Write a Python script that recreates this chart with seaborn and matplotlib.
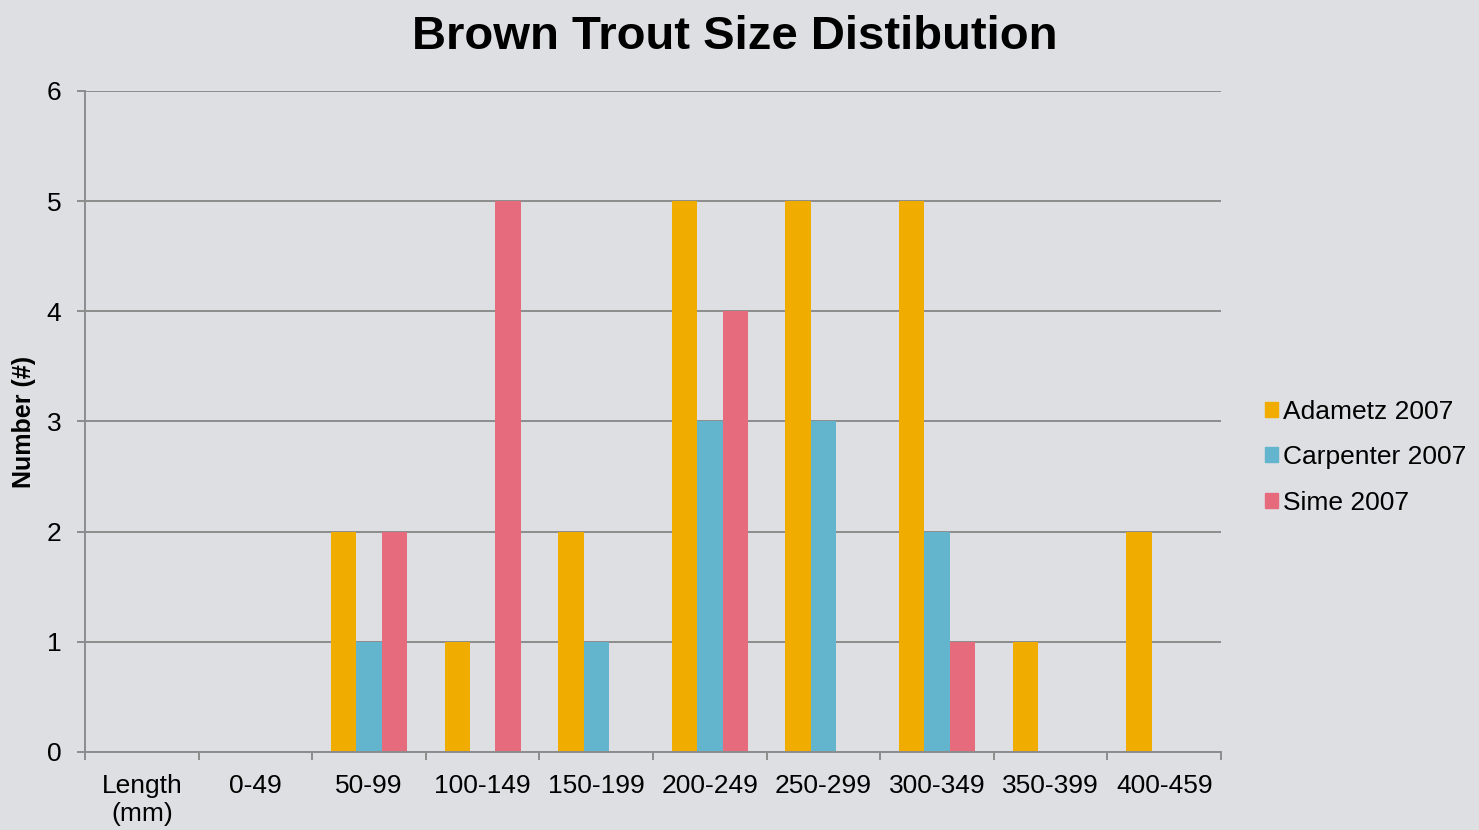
import pandas as pd
import matplotlib
matplotlib.use("Agg")
from matplotlib import pyplot as plt
from matplotlib.ticker import FixedLocator
import seaborn as sb

# Size classes and counts per survey
categories = ["Length\n(mm)", "0-49", "50-99", "100-149", "150-199",
              "200-249", "250-299", "300-349", "350-399", "400-459"]
adametz = [0, 0, 2, 1, 2, 5, 5, 5, 1, 2]
carpenter = [0, 0, 1, 0, 1, 3, 3, 2, 0, 0]
sime = [0, 0, 2, 5, 0, 4, 0, 1, 0, 0]
series = ["Adametz 2007", "Carpenter 2007", "Sime 2007"]
colors = ["#F0AD00", "#62B5CC", "#E66C7D"]

# Long-form table for seaborn
data = pd.DataFrame({
    "Size": categories * 3,
    "Count": adametz + carpenter + sime,
    "Survey": [s for s in series for _ in categories],
})

bg = "#DEDFE3"
grey = "#8C8C8C"

sb.set_theme(style="white")
plt.rcParams["font.family"] = ["Liberation Sans", "DejaVu Sans"]
plt.rcParams["text.color"] = "black"
plt.rcParams["axes.labelcolor"] = "black"

fig = plt.figure(figsize=(14.79, 8.30), dpi=100, facecolor=bg)
ax = fig.add_axes([0.0575, 0.094, 0.7681, 0.7964])
ax.set_facecolor(bg)

sb.barplot(data=data, x="Size", y="Count", hue="Survey", order=categories,
           hue_order=series, palette=colors, width=0.67, linewidth=0,
           saturation=1, ax=ax, legend=False)

ax.set_ylim(0, 6)
ax.set_xlim(-0.5, len(categories) - 0.5)
ax.set_yticks(range(7))
ax.grid(axis="y", color=grey, linewidth=1.4)
ax.set_axisbelow(True)

# Spines: only left and bottom
for side in ["top", "right"]:
    ax.spines[side].set_visible(False)
for side in ["left", "bottom"]:
    ax.spines[side].set_color(grey)
    ax.spines[side].set_linewidth(1.4)

# Category labels without marks, boundary ticks as minor ticks
ax.tick_params(axis="x", which="major", length=0, pad=16, labelsize=19, labelcolor="black")
ax.xaxis.set_minor_locator(FixedLocator([i - 0.5 for i in range(len(categories) + 1)]))
ax.tick_params(axis="x", which="minor", bottom=True, length=6, width=1.4, color=grey)
ax.tick_params(axis="y", left=True, length=6, width=1.4, color=grey, pad=11,
               labelsize=19, labelcolor="black")

ax.set_xlabel("")
ax.set_ylabel("Number (#)", fontsize=18, fontweight="bold", labelpad=8, color="black")

fig.suptitle("Brown Trout Size Distibution", fontsize=34, fontweight="bold",
             x=0.497, y=0.982, color="black")

# Legend with small square markers
handles = [plt.Rectangle((0, 0), 1, 1, color=c) for c in colors]
fig.legend(handles, series, loc="center left", bbox_to_anchor=(0.848, 0.449),
           frameon=False, fontsize=19, handlelength=0.5, handleheight=0.5,
           handletextpad=0.2, labelspacing=0.82, borderaxespad=0,
           labelcolor="black")

fig.savefig("out.png", dpi=100, facecolor=bg)
